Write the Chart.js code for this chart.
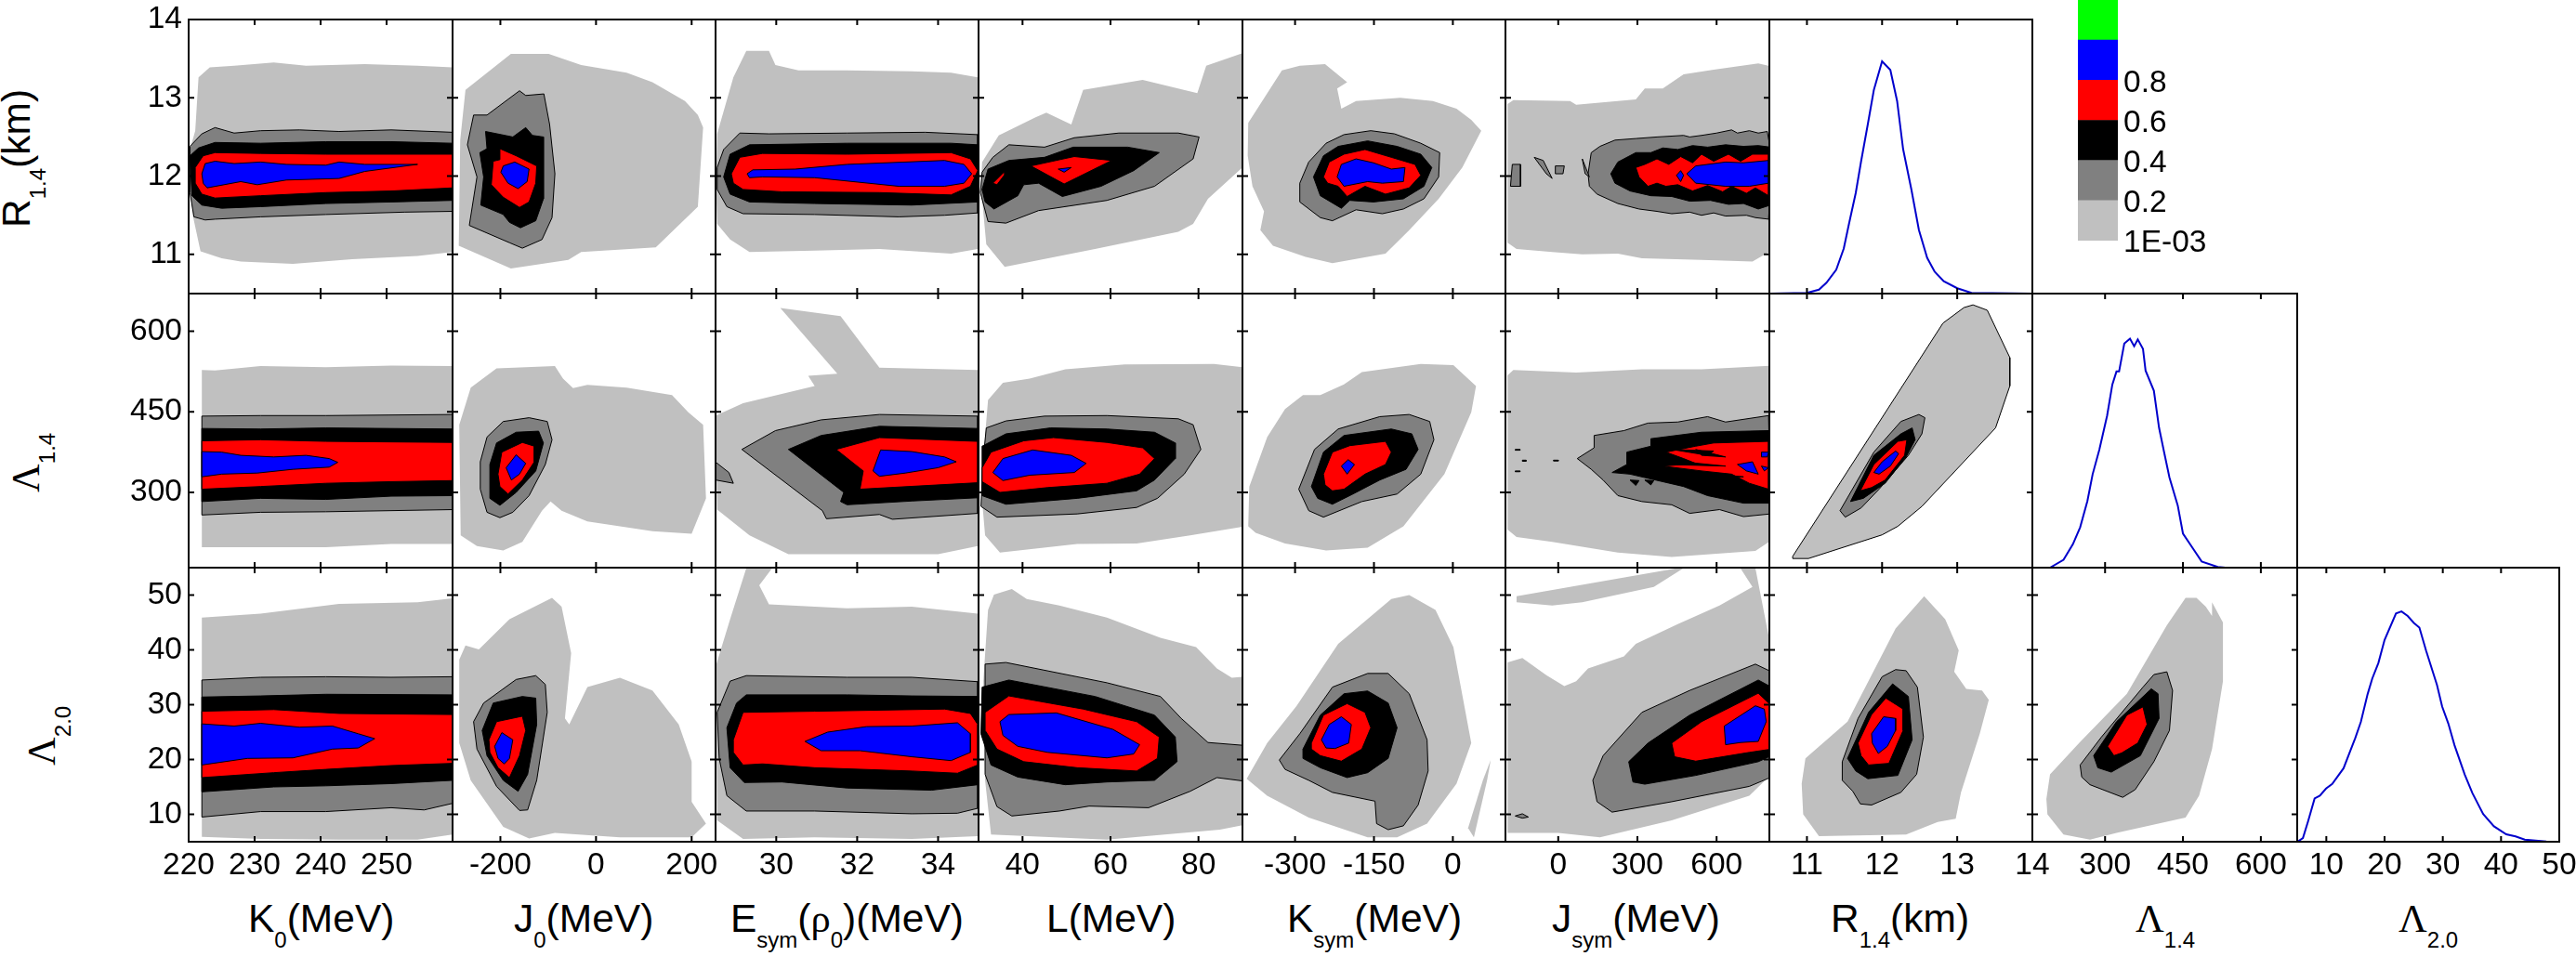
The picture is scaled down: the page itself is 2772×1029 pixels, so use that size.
<!DOCTYPE html>
<html>
<head>
<meta charset="utf-8">
<title>Corner plot</title>
<script src="https://cdn.jsdelivr.net/npm/chart.js@4/dist/chart.umd.js"></script>
<style>
  html, body { margin: 0; padding: 0; background: #fff; }
  #page { position: relative; width: 2772px; height: 1029px; overflow: hidden; }
  canvas { position: absolute; }
  .label { position: absolute; white-space: nowrap; font: 42.5px/42px "Liberation Sans", Arial, sans-serif; color: #000; }
  .label i { font-family: "Liberation Serif", serif; font-style: normal; }
  .label sub { font-size: 24px; line-height: 0; vertical-align: -17px; }
  .rot { transform-origin: 0 0; transform: rotate(-90deg); }
</style>
</head>
<body>
<div id="page"></div>
<script>
// Axis ranges and tick values
var k0Range = [220, 260], k0Ticks = [220, 230, 240, 250];
var j0Range = [-300, 250], j0Ticks = [-200, 0, 200];
var esymRange = [28.5, 35], esymTicks = [30, 32, 34];
var lRange = [30, 90], lTicks = [40, 60, 80];
var ksymRange = [-400, 100], ksymTicks = [-300, -150, 0];
var jsymRange = [-200, 800], jsymTicks = [0, 300, 600];
var r14Range = [10.5, 14], r14Ticks = [11, 12, 13, 14];
var lam14Range = [160, 670], lam14Ticks = [300, 450, 600];
var lam20Range = [5, 55], lam20XRange = [5, 50], lam20Ticks = [10, 20, 30, 40, 50];

// Colour bar
var barLevels = [0.2, 0.2, 0.2, 0.2, 0.2, 0.2];
var barTickValues = [0, 0.2, 0.4, 0.6, 0.8];
var barTickLabels = ["1E-03", "0.2", "0.4", "0.6", "0.8"];

// Contours: [level, [x,y, x,y, ...]]
var rK0 = [
  [0.001, [220.2,12.34, 221,12.58, 221.5,13.26, 223.2,13.39, 226.9,13.41, 232.9,13.45, 237.8,13.41, 246.7,13.43, 254.7,13.41, 260,13.39, 260,11.03, 254.7,10.98, 244.8,10.94, 235.8,10.88, 227.9,10.91, 225,10.95, 221.8,11.04, 220.7,11.47, 220.2,11.87]],
  [0.2, [220.2,12.38, 222,12.54, 224,12.62, 226.9,12.55, 230.9,12.58, 236.8,12.59, 242.8,12.57, 250.7,12.59, 260,12.56, 260,11.55, 252.7,11.54, 240.8,11.51, 230.9,11.48, 224,11.45, 222.5,11.44, 220.8,11.48, 220.2,11.79]],
  [0.4, [220.2,12.26, 221.5,12.36, 224,12.43, 230.9,12.42, 240.8,12.44, 250.7,12.44, 260,12.42, 260,11.69, 250.7,11.67, 240.8,11.65, 230.9,11.61, 225,11.59, 222,11.63, 220.5,11.75]],
  [0.6, [221,12.11, 222.2,12.26, 224,12.3, 230.9,12.29, 240.8,12.28, 250.7,12.28, 260,12.28, 260,11.85, 250.7,11.81, 240.8,11.79, 230.9,11.75, 224,11.72, 222,11.77, 221,11.91]],
  [0.8, [222,12.03, 222.5,12.16, 224,12.19, 226.9,12.16, 230.9,12.18, 234.8,12.15, 240.8,12.14, 242.8,12.18, 246.7,12.15, 254.7,12.15, 246.7,12.06, 242.8,11.97, 234.8,11.95, 230.4,11.89, 227.9,11.93, 222.8,11.85, 222.2,11.91]]
];
var rJ0 = [
  [0.001, [-287,11.11, -284,12.46, -273,13.1, -178,13.56, -99,13.56, -31,13.42, 64,13.32, 118,13.2, 186,12.96, 213,12.78, 224,12.62, 213,11.61, 125,11.09, -31,11.03, -58,10.93, -178,10.82]],
  [0.2, [-160,13.09, -147,13.03, -109,13.05, -97,12.66, -86,12.03, -92,11.47, -113,11.19, -154,11.08, -181,11.15, -265,11.37, -249,11.99, -269,12.4, -256,12.78, -228,12.78]],
  [0.4, [-231,12.57, -174,12.5, -147,12.62, -133,12.52, -110,12.5, -110,11.71, -126,11.43, -158,11.34, -181,11.41, -194,11.51, -241,11.63, -235,11.99, -243,12.3, -228,12.35]],
  [0.6, [-201,12.35, -167,12.26, -124,12.13, -126,11.91, -140,11.67, -160,11.6, -194,11.73, -219,11.89, -215,12.19, -201,12.21]],
  [0.8, [-170,12.18, -140,12.09, -144,11.93, -163,11.84, -184,11.91, -199,12.05, -194,12.13]]
];
var rEsym = [
  [0.001, [28.51,11.87, 28.54,12.54, 28.94,13.26, 29.26,13.6, 29.82,13.6, 29.98,13.42, 30.55,13.35, 31.75,13.35, 33.35,13.34, 34.32,13.32, 34.98,13.26, 34.98,11.07, 34.32,11.01, 32.55,11.07, 30.95,11.05, 29.34,11.03, 28.86,11.19, 28.54,11.39]],
  [0.2, [28.54,12.11, 28.7,12.34, 29.1,12.55, 29.82,12.54, 31.75,12.55, 33.68,12.56, 34.98,12.53, 34.98,11.53, 34.16,11.5, 33.03,11.48, 30.95,11.51, 29.18,11.52, 28.78,11.61, 28.54,11.83]],
  [0.4, [28.7,11.99, 28.86,12.28, 29.34,12.4, 31.75,12.42, 34.32,12.42, 34.98,12.4, 34.98,11.67, 33.35,11.63, 30.95,11.65, 29.34,11.67, 28.86,11.77]],
  [0.6, [28.89,12.03, 29.1,12.24, 29.66,12.29, 31.75,12.28, 34.32,12.3, 34.8,12.22, 34.98,12.07, 34.8,11.87, 34.32,11.76, 32.55,11.79, 30.14,11.8, 29.18,11.83, 28.94,11.91]],
  [0.8, [29.28,12.03, 29.42,12.08, 30.47,12.09, 31.75,12.15, 34.16,12.2, 34.64,12.15, 34.83,12.03, 34.64,11.91, 34.16,11.87, 33.03,11.87, 30.95,11.98, 29.66,11.99, 29.34,11.98]]
];
var rL = [
  [0.001, [30.54,11.87, 30.81,12.18, 34.59,12.52, 42.97,12.75, 45.41,12.81, 51.08,12.66, 53.78,13.1, 67.3,13.23, 79.73,13.06, 81.76,13.41, 90,13.57, 90,12.11, 82.16,11.71, 78.78,11.39, 75.41,11.29, 56.49,11.07, 35.95,10.84, 31.76,11.13]],
  [0.2, [30.41,11.79, 30.81,12.05, 33.24,12.24, 36.89,12.4, 45,12.37, 51.76,12.49, 61.89,12.55, 75.41,12.55, 80.14,12.5, 78.78,12.22, 70,11.87, 59.19,11.69, 43.65,11.56, 36.22,11.4, 32.16,11.42]],
  [0.4, [30.81,11.83, 32.16,12.09, 36.89,12.2, 45,12.24, 51.49,12.37, 63.92,12.37, 71.08,12.3, 65.27,12.07, 57.84,11.87, 49.05,11.74, 43.65,11.91, 40.27,11.89, 38.92,11.75, 33.51,11.58, 31.49,11.67]],
  [0.6, [33.24,11.91, 35.95,12.06, 35.95,12.02, 34.19,11.89]],
  [0.6, [41.89,12.13, 51.76,12.25, 60.27,12.2, 49.46,11.9]],
  [0.8, [48.11,12.09, 51.08,12.11, 49.46,12.05]]
];
var rKsym = [
  [0.001, [-389,12.68, -325,13.35, -291,13.41, -243,13.43, -201,13.2, -220,13.12, -212,12.86, -184,12.96, -100,13, -38,12.96, 7,12.86, 35,12.72, 54,12.58, 18,12.11, -27,11.71, -83,11.31, -128,11.01, -229,10.89, -280,10.97, -342,11.11, -366,11.31, -359,11.55, -381,11.87, -390,12.26]],
  [0.2, [-291,11.91, -274,12.18, -241,12.42, -207,12.53, -156,12.58, -111,12.54, -61,12.42, -25,12.3, -27,11.99, -55,11.71, -94,11.58, -134,11.52, -184,11.57, -229,11.43, -252,11.47, -291,11.67]],
  [0.4, [-265,11.99, -246,12.26, -218,12.38, -162,12.45, -106,12.38, -61,12.28, -40,12.11, -55,11.87, -94,11.71, -151,11.67, -196,11.69, -212,11.59, -252,11.75]],
  [0.6, [-246,11.99, -235,12.18, -207,12.28, -167,12.34, -117,12.24, -72,12.15, -61,12.01, -83,11.85, -128,11.77, -167,11.87, -201,11.74, -218,11.87, -238,11.91]],
  [0.8, [-220,11.99, -212,12.15, -184,12.22, -151,12.17, -117,12.09, -91,12.11, -94,11.93, -134,11.91, -162,11.93, -207,11.87]]
];
var rJsym = [
  [0.001, [-192,12.92, -170,12.97, 45,12.96, 68,12.91, 294,12.98, 328,13.12, 396,13.12, 475,13.3, 589,13.36, 758,13.44, 808,13.4, 808,11.05, 736,10.91, 543,10.93, 317,10.95, 226,11.01, 91,11, -23,11.03, -158,11.07, -192,11.15]],
  [0.2, [125,12.3, 158,12.38, 215,12.46, 294,12.48, 374,12.5, 475,12.52, 498,12.5, 543,12.52, 600,12.55, 657,12.59, 679,12.55, 724,12.58, 758,12.55, 792,12.57, 804,12.34, 804,11.87, 797,11.45, 747,11.47, 713,11.5, 634,11.49, 589,11.53, 543,11.5, 498,11.54, 430,11.52, 374,11.55, 306,11.58, 226,11.65, 147,11.77, 118,11.87, 113,12.03]],
  [0.2, [-174,12.15, -143,12.15, -143,11.87, -181,11.87]],
  [0.2, [-91,12.24, -57,12.2, -23,11.97, -45,12.03]],
  [0.2, [-11,12.13, 23,12.13, 18,12.03, -11,12.03]],
  [0.2, [91,12.22, 118,11.99, 102,12.03]],
  [0.4, [199,12.03, 226,12.18, 294,12.3, 351,12.3, 396,12.36, 453,12.34, 509,12.39, 566,12.37, 634,12.4, 702,12.38, 758,12.39, 804,12.37, 804,11.63, 758,11.58, 702,11.65, 645,11.64, 577,11.69, 498,11.68, 430,11.74, 351,11.75, 272,11.81, 215,11.91]],
  [0.6, [294,12.11, 328,12.15, 374,12.22, 419,12.15, 464,12.25, 509,12.17, 543,12.28, 589,12.19, 645,12.28, 691,12.19, 736,12.28, 797,12.28, 797,11.75, 747,11.85, 713,11.78, 657,11.87, 623,11.8, 566,11.88, 509,11.81, 453,11.89, 408,11.87, 374,11.91, 340,11.87, 306,11.99]],
  [0.8, [487,12.03, 521,12.13, 634,12.18, 702,12.17, 797,12.2, 797,11.91, 724,11.87, 634,11.87, 521,11.91]],
  [0.8, [464,12.07, 475,12.01, 464,11.93, 448,12.01]]
];

var lamK0 = [
  [0.001, [222,528, 224,527, 230.9,535, 240.8,533, 250.7,536, 260,535, 260,204, 250.7,204, 240.8,198, 230.9,198, 222,198]],
  [0.2, [222,442, 230.9,443, 240.8,443, 260,445, 260,268, 240.8,264, 230.9,263, 222,258]],
  [0.4, [222,419, 230.9,418, 240.8,420, 260,418, 260,294, 250.7,293, 240.8,287, 230.9,289, 222,283]],
  [0.6, [222,396, 230.9,398, 240.8,395, 260,393, 260,322, 250.7,320, 240.8,317, 230.9,311, 222,306]],
  [0.8, [222,376, 225,375, 227.9,369, 232.9,366, 237.8,369, 241.3,363, 242.6,356, 241.3,347, 235.8,343, 230.4,336, 225,334, 222,329]]
];
var lamJ0 = [
  [0.001, [-286,426, -262,495, -208,531, -86,535, -69,512, -48,494, -18,500, 64,495, 159,481, 193,449, 224,426, 230,289, 200,223, 118,228, 50,237, -18,246, -72,266, -95,283, -113,266, -154,208, -194,192, -249,200, -283,220]],
  [0.2, [-242,357, -228,403, -194,432, -140,439, -102,432, -92,398, -106,352, -140,294, -174,263, -201,253, -228,263, -242,306]],
  [0.4, [-222,352, -208,392, -167,412, -120,414, -110,392, -126,340, -167,300, -201,276, -222,289]],
  [0.6, [-205,334, -197,375, -154,393, -129,386, -129,357, -154,323, -184,297, -201,311]],
  [0.8, [-188,346, -167,370, -147,354, -160,334, -177,323]]
];
var lamEsym = [
  [0.001, [28.51,443, 29.18,466, 30.95,498, 30.79,517, 31.51,521, 30.1,643, 31.59,628, 32.55,532, 34.98,528, 34.98,200, 34,185, 31.75,185, 30.3,185, 29.34,220, 28.54,268]],
  [0.2, [29.15,380, 29.98,415, 31.11,435, 32.55,445, 34.98,442, 34.98,261, 32.87,250, 32.55,259, 31.24,251, 31.14,266]],
  [0.2, [28.51,356, 28.83,337, 28.94,317, 28.51,323]],
  [0.4, [30.3,380, 31.11,406, 32.55,423, 34.98,419, 34.98,290, 33.35,284, 31.75,277, 31.59,283, 31.67,300]],
  [0.6, [31.48,380, 32.55,402, 34.98,395, 34.98,318, 32.07,306, 32.15,340]],
  [0.8, [32.58,379, 33.35,376, 34.16,366, 34.45,357, 34,346, 33.19,336, 32.55,330, 32.39,340]]
];
var lamL = [
  [0.001, [32.16,472, 35.54,504, 41.62,512, 49.73,529, 63.24,538, 83.51,539, 90,533, 90,236, 78.11,220, 65.95,205, 52.43,204, 34.86,188, 31.49,220, 30.54,311]],
  [0.2, [31.76,420, 36.22,433, 45,442, 59.19,443, 75.41,437, 78.78,426, 80.54,380, 76.76,334, 70.68,289, 65.95,272, 52.43,260, 34.19,254, 30.54,274, 31.08,363]],
  [0.4, [30.81,386, 36.22,409, 46.35,420, 59.19,418, 70,412, 74.73,392, 74.73,363, 70,323, 65.95,303, 52.43,289, 36.22,278, 30.81,294]],
  [0.6, [30.81,346, 32.84,375, 40.27,396, 47.03,402, 59.19,393, 67.3,383, 70,363, 66.62,334, 59.19,317, 45.68,309, 34.86,300, 30.81,320]],
  [0.8, [33.24,337, 35.54,363, 42.3,379, 51.08,369, 54.46,354, 51.76,337, 41.62,332, 35.54,322]]
];
var lamKsym = [
  [0.001, [-389,237, -387,311, -353,403, -319,455, -285,481, -252,481, -207,501, -173,524, -61,539, 1,537, 44,498, 35,449, -16,334, -94,237, -162,197, -241,192, -319,205, -375,225]],
  [0.2, [-293,306, -263,380, -218,418, -139,441, -83,445, -44,432, -36,398, -61,334, -106,297, -173,283, -246,254, -274,266]],
  [0.4, [-269,311, -246,375, -207,406, -117,418, -78,409, -66,380, -89,343, -139,323, -190,297, -229,278, -257,289]],
  [0.6, [-246,334, -229,375, -196,387, -128,395, -117,375, -128,352, -167,334, -207,306, -229,303, -243,314]],
  [0.8, [-212,349, -199,361, -187,352, -201,334]]
];
var lamJsym = [
  [0.001, [-192,518, -170,528, 68,523, 317,529, 543,529, 808,536, 808,211, 747,191, 430,180, 226,188, -23,208, -158,217, -192,231]],
  [0.2, [136,406, 249,415, 340,429, 453,431, 566,441, 634,431, 797,443, 804,260, 702,255, 611,268, 498,261, 430,277, 317,283, 226,294, 170,323, 125,343, 72,363, 136,383]],
  [0.4, [351,400, 543,412, 797,415, 797,280, 702,280, 566,294, 475,311, 272,334, 204,337, 260,352, 260,375, 351,386]],
  [0.6, [408,375, 521,386, 589,392, 797,395, 797,306, 724,317, 657,334, 543,340, 396,349, 521,354, 475,363]],
  [0.4, [408,360, 634,349, 408,352]],
  [0.4, [475,340, 702,329, 498,329]],
  [0.4, [430,380, 589,377, 566,369]],
  [0.4, [521,380, 634,366, 543,369]],
  [0.4, [272,323, 306,322, 294,313]],
  [0.4, [328,323, 362,322, 351,314]],
  [0.4, [-163,380, -145,380, -145,378.5, -163,378.5]],
  [0.4, [-163,340, -145,340, -145,338.5, -163,338.5]],
  [0.4, [-136,360, -122,360, -122,358, -136,358]],
  [0.4, [-18,360, 0,360, 0,358.5, -18,358.5]],
  [0.8, [679,352, 736,357, 758,334, 713,340]],
  [0.8, [770,349, 797,346, 781,340]],
  [0.8, [770,375, 797,375, 792,366, 770,366]]
];
var lamR = [
  [0.001, [10.81,181, 12.81,615, 13.09,644, 13.21,649, 13.4,639, 13.7,551, 13.7,498, 13.51,420, 12.53,274, 12.21,237, 12,221, 11.02,177, 10.81,177]],
  [0.2, [11.44,266, 11.89,375, 12.25,432, 12.49,445, 12.57,439, 12.53,409, 12.35,369, 11.96,306, 11.72,271, 11.51,254]],
  [0.4, [11.58,283, 11.89,369, 12.25,409, 12.4,420, 12.44,398, 12.32,366, 12.04,317, 11.75,289]],
  [0.6, [11.71,303, 11.89,352, 12.21,395, 12.33,398, 12.3,369, 12.04,323, 11.86,309]],
  [0.8, [11.89,337, 12,357, 12.18,377, 12.22,372, 12.11,349, 11.96,334]]
];

var lam2K0 = [
  [0.001, [222,45.9, 230.9,46.6, 242.8,48.4, 254.7,48.7, 260,49.4, 260,6.3, 254.7,5.4, 242.8,5.4, 230.9,5.5, 222,5.9]],
  [0.2, [222,34.5, 230.9,35, 240.8,35.1, 250.7,35, 260,35.1, 260,12, 255.7,10.8, 250.7,11.2, 240.8,10.5, 230.9,10.5, 222,9.5]],
  [0.4, [222,31.4, 230.9,31.6, 240.8,31.9, 260,31.8, 260,16.2, 250.7,15.6, 240.8,15.2, 232.9,15, 222,14.1]],
  [0.6, [222,28.8, 232.9,29.1, 242.8,28.4, 260,28.2, 260,19.3, 250.7,18.9, 240.8,18.2, 232.9,17.6, 222,16.7]],
  [0.8, [222,26.5, 226.9,26.1, 230.9,26.6, 236.8,25.9, 241.8,26.1, 245.7,24.7, 248.2,23.8, 245.7,22.1, 241.8,21.9, 235.8,20.3, 228.9,20.2, 222,19]]
];
var lam2J0 = [
  [0.001, [-286,38.2, -273,40.8, -245,40.1, -181,45.6, -92,49.5, -72,47.9, -52,39.4, -65,27.5, -56,26.4, -18,33.2, 50,34.9, 118,32.6, 173,26.4, 200,19.6, 200,12.3, 230,8.3, 200,5.8, 50,5.8, -86,6.6, -140,5.6, -194,7.7, -262,16.2, -286,23]],
  [0.2, [-256,26.9, -235,30.3, -167,34.6, -126,35.3, -106,33.7, -102,28.6, -124,16.2, -143,10.8, -160,10.7, -208,15.1, -249,21.9]],
  [0.4, [-238,25.3, -215,30.3, -154,31.5, -126,31.2, -124,26.4, -143,17.3, -163,14.2, -194,16.2, -228,20.7]],
  [0.6, [-224,23.6, -208,26.9, -154,27.9, -147,25.3, -160,20.7, -181,16.7, -205,18.5, -222,21.3]],
  [0.8, [-212,22.4, -197,24.9, -174,23.6, -181,20.2, -192,19.2, -205,20.2]]
];
var lam2Esym = [
  [0.001, [28.51,37.1, 28.86,45.6, 29.26,54.9, 29.9,54.9, 29.58,51.8, 29.82,48.3, 31.75,47.6, 33.35,47.9, 34.98,46.6, 34.98,6, 33.35,5.5, 30.95,5.8, 29.18,5.5, 28.54,8.9]],
  [0.2, [28.54,28.6, 28.86,34.3, 29.26,35.3, 31.75,35, 33.35,35, 34.98,34.2, 34.98,11.1, 34.48,10.2, 33.35,10.1, 30.95,10.6, 29.26,10.6, 28.78,13.4, 28.59,20.2]],
  [0.4, [28.78,25.8, 29.02,30.3, 29.26,31.8, 31.75,31.8, 33.35,31.6, 34.98,31.5, 34.98,15.4, 33.84,14.4, 31.75,14.8, 30.14,15.9, 29.21,15.8, 28.86,18.5]],
  [0.6, [28.94,23.6, 29.18,28.6, 30.95,28.8, 34.16,29.2, 34.8,28.4, 34.98,26.4, 34.98,19, 34.48,17.5, 33.35,17.9, 30.95,18.5, 29.66,19.2, 29.18,19, 28.94,21.3]],
  [0.8, [30.71,23.3, 31.27,25, 32.23,26, 33.35,26.1, 34.48,26.7, 34.8,24.7, 34.8,21.3, 34.32,19.8, 33.35,20.5, 32.07,21.6, 31.11,21.6]]
];
var lam2L = [
  [0.001, [32.16,47.3, 33.51,50.1, 37.57,51.1, 40.95,49.3, 48.38,48.1, 59.19,45.9, 71.35,42.2, 79.46,40.5, 84.19,36.6, 87.57,34.9, 90,35.1, 90,8, 84.86,7.2, 59.19,5.4, 32.84,6.3, 31.49,16.2, 31.08,34.3]],
  [0.2, [31.49,37.4, 36.22,37.7, 59.19,34, 71.35,31.5, 76.08,27.5, 82.16,23.1, 90,22.6, 90,16.1, 84.19,16.7, 78.11,14.2, 68.65,11.2, 55.14,11.5, 48.38,10.6, 37.57,9.7, 34.19,11.4, 31.49,17.3]],
  [0.4, [30.81,33.2, 36.89,34.5, 56.49,31.5, 70,28.1, 74.73,24.1, 75.14,19.6, 70,16.2, 59.19,15.9, 49.73,15.4, 38.92,16.8, 32.84,19, 30.54,24.7]],
  [0.6, [31.49,28.6, 36.89,31.6, 53.78,29.2, 65.95,26.9, 71.08,24.1, 70.68,20.2, 65.95,17.9, 52.43,18.5, 40.27,19.6, 34.19,21.9, 31.49,25.3]],
  [0.8, [34.86,26.9, 36.89,28.2, 47.7,28.5, 60.54,25.5, 66.62,22.7, 65.27,21, 59.19,20.3, 45.68,21.3, 38.92,22.4, 35.54,24.4]]
];
var lam2Ksym = [
  [0.001, [-392,16.5, -353,23, -297,29.8, -218,41.1, -117,49.3, -83,50, -33,47.3, 1,40.5, 35,23, 7,15.6, -49,8.3, -106,5.8, -162,5.8, -274,9.4, -353,13.4]],
  [0.001, [72,19.9, 65,16.2, 40,5.8, 29,7.5, 57,16.2]],
  [0.2, [-330,19.9, -291,24.7, -229,33.2, -162,35.7, -123,35.7, -83,32, -49,23.6, -47,17.9, -66,11.7, -94,7.9, -123,7.2, -145,8.3, -148,12.4, -229,14, -274,16.2, -319,18.2]],
  [0.4, [-285,21.9, -252,28.1, -207,32, -162,32.5, -123,30.3, -106,25.8, -123,20.2, -162,17.6, -201,16.7, -252,18.5, -285,20.2]],
  [0.6, [-269,23, -246,28.1, -201,30.2, -167,28.6, -156,25.8, -173,21.9, -212,19.7, -252,20.7, -269,21.9]],
  [0.8, [-250,23.6, -235,26.4, -212,27.8, -193,26.4, -198,23, -224,22, -241,22.1]]
];
var lam2Jsym = [
  [0.001, [-192,37.7, -136,38.5, -45,35.4, 23,33.4, 68,34.3, 113,36.6, 249,38.8, 294,41.1, 453,44.7, 611,48.1, 736,51.5, 690,54.9, 747,54.9, 808,39.9, 808,17.3, 724,13.4, 430,8.9, 158,5.8, 0,6.6, -192,6.6]],
  [0.001, [-158,49.8, 453,54.9, 475,54.9, 362,51.5, 91,48.7, -23,48.1, -158,48.7]],
  [0.2, [131,16.2, 170,20.7, 317,28.6, 498,32.6, 747,37.4, 808,36, 808,16.8, 724,15.1, 430,12.3, 204,10.4, 147,12.3]],
  [0.2, [-163,9.7, -136,10.1, -113,9.5, -136,9.3]],
  [0.4, [267,19.6, 340,23, 498,28.1, 758,34.5, 808,33.2, 808,20.7, 758,19.6, 521,17.1, 328,15.5, 283,15.9]],
  [0.6, [430,23, 543,26.9, 758,32.1, 808,29.8, 808,21.9, 724,21.3, 521,19.7, 441,20.5]],
  [0.8, [629,26.1, 747,29.8, 781,29.2, 788,26.9, 758,23.3, 691,23.1, 634,22.7]]
];
var lam2R = [
  [0.001, [10.93,15.6, 10.98,20.2, 11.54,26.9, 12.18,43.9, 12.56,49.8, 12.84,45.6, 13.02,39.9, 12.96,36, 13.12,32.9, 13.33,32.6, 13.42,30.9, 13.3,24.7, 13.05,14, 12.98,9.2, 12.74,8.6, 12.32,6.3, 11.16,6, 10.95,10]],
  [0.2, [11.47,19.6, 11.68,27.5, 12,35.1, 12.18,36.4, 12.32,36.2, 12.47,33.2, 12.55,24.1, 12.46,17.3, 12.25,14, 11.86,11.7, 11.71,11.9, 11.61,14.2, 11.47,16.2]],
  [0.4, [11.54,20.2, 11.82,28.6, 12.14,33.8, 12.35,31.5, 12.4,23.6, 12.21,17.1, 11.81,16.5, 11.65,17.9]],
  [0.6, [11.68,23, 11.86,28.2, 12.05,31.2, 12.28,29.2, 12.28,25.3, 12.09,19.3, 11.82,19, 11.72,20.7]],
  [0.8, [11.86,24.7, 12.02,27.8, 12.18,27.5, 12.18,25.3, 12.07,22.4, 11.95,21.1, 11.87,23]]
];
var lam2Lam = [
  [0.001, [187,12.8, 194,17.3, 250,23, 342,32, 419,44.5, 455,49.5, 476,49.5, 494,47.9, 506,46.2, 506,48.7, 527,45, 527,34.3, 506,21.9, 481,13.4, 455,9.4, 322,6.6, 271,5.4, 220,6.3, 189,10]],
  [0.2, [252,19, 293,24.1, 373,33.2, 394,35.5, 419,36, 430,32.6, 424,25.3, 394,19.6, 358,14.5, 334,13.1, 271,15.4, 255,16.8]],
  [0.4, [278,20.7, 322,26.9, 389,32.9, 402,32, 404,27.5, 368,20.7, 312,17.7, 286,18.5]],
  [0.6, [305,22.4, 342,28.1, 373,29.6, 381,26.4, 363,23, 332,21.2, 317,20.7]]
];

// One-dimensional distributions on the diagonal
var diagRx = [10.5, 11, 11.16, 11.26, 11.39, 11.49, 11.56, 11.65, 11.72, 11.81, 11.89, 12, 12.11, 12.2, 12.28, 12.39, 12.49, 12.6, 12.7, 12.82, 13, 13.19, 14];
var diagRy = [0, .003, .017, .047, .103, .194, .301, .434, .568, .729, .876, 1, .963, .829, .622, .448, .274, .154, .094, .053, .023, .003, 0];
var diagLamx = [194, 220, 238, 252, 266, 276, 289, 304, 314, 322, 327, 337, 348, 356, 363, 373, 378, 394, 404, 414, 424, 440, 450, 470, 486, 517, 532, 660];
var diagLamy = [0, .034, .102, .176, .291, .407, .515, .664, .799, .856, .856, .978, .999, .966, .996, .955, .86, .772, .61, .501, .393, .271, .149, .081, .027, .003, 0, 0];
var diagLam2x = [5.03, 5.98, 6.88, 7.99, 8.89, 9.95, 11.01, 12.96, 14.18, 14.97, 15.93, 17.09, 17.88, 18.94, 20, 21.96, 22.91, 23.97, 25.03, 25.98, 27.14, 29, 29.89, 30.95, 32.01, 33.76, 35.08, 36.93, 38.78, 40.9, 42.49, 44.07, 47.78, 50];
var diagLam2y = [0, .016, .09, .188, .2, .231, .251, .319, .399, .45, .52, .641, .708, .776, .876, .991, 1, .98, .95, .93, .829, .681, .587, .513, .419, .292, .211, .12, .067, .032, .023, .009, .001, 0];

// Layout
var colEdges = [203, 487, 770, 1053, 1337, 1620, 1904, 2187, 2472, 2754];
var rowEdges = [21, 316, 611, 906];
var levels = [0.001, 0.2, 0.4, 0.6, 0.8];
var levelColors = ["#c0c0c0", "#808080", "#000000", "#ff0000", "#0000ff"];
var tickFont = { family: "'Liberation Sans', Arial, sans-serif", size: 33.5 };
var noGrid = { display: false, drawTicks: false };
var page = document.getElementById("page");

// Frame and inward tick marks, taken from the chart's own scales
var framePlugin = {
  id: "frame",
  afterDraw: function (chart, args, opts) {
    var ctx = chart.ctx, a = chart.chartArea;
    ctx.save();
    ctx.strokeStyle = "#000";
    ctx.lineWidth = 2;
    ctx.strokeRect(a.left, a.top, a.right - a.left, a.bottom - a.top);
    ctx.beginPath();
    chart.scales.x.ticks.forEach(function (t) {
      var px = chart.scales.x.getPixelForValue(t.value);
      ctx.moveTo(px, a.top); ctx.lineTo(px, a.top + 6);
      ctx.moveTo(px, a.bottom); ctx.lineTo(px, a.bottom - 6);
    });
    if (!opts.noYTicks) {
      chart.scales.y.ticks.forEach(function (t) {
        var py = chart.scales.y.getPixelForValue(t.value);
        ctx.moveTo(a.left, py); ctx.lineTo(a.left + 6, py);
        ctx.moveTo(a.right, py); ctx.lineTo(a.right - 6, py);
      });
    }
    ctx.stroke();
    ctx.restore();
  }
};

function toPoints(flat, close) {
  var pts = [];
  for (var i = 0; i < flat.length; i += 2) pts.push({ x: flat[i], y: flat[i + 1] });
  if (close) pts.push(pts[0]);
  return pts;
}

function makeCanvas(left, top, w, h) {
  var c = document.createElement("canvas");
  c.width = w; c.height = h;
  c.style.left = left + "px"; c.style.top = top + "px";
  page.appendChild(c);
  return c;
}

function fixedTicks(values) {
  return function (scale) { scale.ticks = values.map(function (v) { return { value: v }; }); };
}

// Scale padding is dropped so the tick labels can hang over the plot edges
function fixWidth(w) {
  return function (s) { s.width = w; s.paddingTop = 0; s.paddingBottom = 0; };
}
function fixHeight(h) {
  return function (s) { s.height = h; s.paddingLeft = 0; s.paddingRight = 0; };
}

function addPanel(row, col, xRange, xTicks, yRange, yTicks, datasets, diagonal) {
  var ml = col === 0 ? 110 : 14, mr = 34, mt = 18, mb = row === 2 ? 50 : 14;
  var left = colEdges[col], right = colEdges[col + 1], top = rowEdges[row], bottom = rowEdges[row + 1];
  var canvas = makeCanvas(left - ml, top - mt, right - left + ml + mr, bottom - top + mt + mb);
  new Chart(canvas, {
    type: "scatter",
    data: { datasets: datasets },
    plugins: [framePlugin],
    options: {
      responsive: false,
      animation: false,
      events: [],
      devicePixelRatio: 1,
      layout: { padding: { top: mt, right: mr } },
      plugins: { legend: { display: false }, tooltip: { enabled: false }, frame: { noYTicks: diagonal } },
      scales: {
        x: {
          type: "linear", min: xRange[0], max: xRange[1],
          afterBuildTicks: fixedTicks(xTicks),
          afterFit: fixHeight(mb),
          grid: noGrid, border: { display: false },
          ticks: { display: row === 2, autoSkip: false, maxRotation: 0, color: "#000", font: tickFont, padding: 6 }
        },
        y: {
          type: "linear", min: yRange[0], max: yRange[1],
          afterBuildTicks: fixedTicks(yTicks),
          afterFit: fixWidth(ml),
          grid: noGrid, border: { display: false },
          ticks: { display: col === 0, autoSkip: false, color: "#000", font: tickFont, padding: 7 }
        }
      }
    }
  });
}

function contourPanel(row, col, xRange, xTicks, yRange, yTicks, contours, outlineLowest) {
  var sets = contours.map(function (c, i) {
    var lev = levels.indexOf(c[0]);
    var outlined = lev > 0 || outlineLowest;
    return {
      data: toPoints(c[1], true),
      showLine: true, fill: "shape", tension: 0, pointRadius: 0,
      backgroundColor: levelColors[lev],
      borderColor: outlined ? "#000" : levelColors[lev],
      borderWidth: outlined ? 1 : 0,
      order: contours.length - i
    };
  });
  addPanel(row, col, xRange, xTicks, yRange, yTicks, sets, false);
}

function curvePanel(row, col, xRange, xTicks, yMax, xs, ys) {
  var pts = xs.map(function (x, i) { return { x: x, y: ys[i] }; });
  addPanel(row, col, xRange, xTicks, [0, yMax], [], [{
    data: pts, showLine: true, fill: false, tension: 0, pointRadius: 0,
    borderColor: "#0000cc", borderWidth: 2
  }], true);
}

// Row 1
contourPanel(0, 0, k0Range, k0Ticks, r14Range, r14Ticks, rK0);
contourPanel(0, 1, j0Range, j0Ticks, r14Range, r14Ticks, rJ0);
contourPanel(0, 2, esymRange, esymTicks, r14Range, r14Ticks, rEsym);
contourPanel(0, 3, lRange, lTicks, r14Range, r14Ticks, rL);
contourPanel(0, 4, ksymRange, ksymTicks, r14Range, r14Ticks, rKsym);
contourPanel(0, 5, jsymRange, jsymTicks, r14Range, r14Ticks, rJsym);
curvePanel(0, 6, r14Range, r14Ticks, 1.18, diagRx, diagRy);
// Row 2
contourPanel(1, 0, k0Range, k0Ticks, lam14Range, lam14Ticks, lamK0);
contourPanel(1, 1, j0Range, j0Ticks, lam14Range, lam14Ticks, lamJ0);
contourPanel(1, 2, esymRange, esymTicks, lam14Range, lam14Ticks, lamEsym);
contourPanel(1, 3, lRange, lTicks, lam14Range, lam14Ticks, lamL);
contourPanel(1, 4, ksymRange, ksymTicks, lam14Range, lam14Ticks, lamKsym);
contourPanel(1, 5, jsymRange, jsymTicks, lam14Range, lam14Ticks, lamJsym);
contourPanel(1, 6, r14Range, r14Ticks, lam14Range, lam14Ticks, lamR, true);
curvePanel(1, 7, lam14Range, lam14Ticks, 1.196, diagLamx, diagLamy);
// Row 3
contourPanel(2, 0, k0Range, k0Ticks, lam20Range, lam20Ticks, lam2K0);
contourPanel(2, 1, j0Range, j0Ticks, lam20Range, lam20Ticks, lam2J0);
contourPanel(2, 2, esymRange, esymTicks, lam20Range, lam20Ticks, lam2Esym);
contourPanel(2, 3, lRange, lTicks, lam20Range, lam20Ticks, lam2L);
contourPanel(2, 4, ksymRange, ksymTicks, lam20Range, lam20Ticks, lam2Ksym);
contourPanel(2, 5, jsymRange, jsymTicks, lam20Range, lam20Ticks, lam2Jsym);
contourPanel(2, 6, r14Range, r14Ticks, lam20Range, lam20Ticks, lam2R);
contourPanel(2, 7, lam14Range, lam14Ticks, lam20Range, lam20Ticks, lam2Lam);
curvePanel(2, 8, lam20XRange, lam20Ticks, 1.19, diagLam2x, diagLam2y);

// Colour bar, a single stacked bar; its labels sit on a second axis a little lower
var barCanvas = makeCanvas(2236, 0, 160, 285);
new Chart(barCanvas, {
  type: "bar",
  data: {
    labels: [""],
    datasets: barLevels.map(function (v, i) {
      return {
        data: [v], stack: "bar", barPercentage: 1, categoryPercentage: 1, borderWidth: 0,
        backgroundColor: levelColors.concat(["#00ff00"])[i]
      };
    })
  },
  options: {
    responsive: false,
    animation: false,
    events: [],
    devicePixelRatio: 1,
    layout: { padding: { bottom: 26 } },
    plugins: { legend: { display: false }, tooltip: { enabled: false } },
    scales: {
      x: { display: false, stacked: true },
      y: { display: false, stacked: true, min: 0, max: 1.2 },
      barLabels: {
        axis: "y", type: "linear", position: "right", min: 0.014, max: 1.214,
        afterBuildTicks: fixedTicks(barTickValues),
        afterFit: fixWidth(117),
        grid: noGrid, border: { display: false },
        ticks: {
          autoSkip: false, color: "#000", font: tickFont, padding: 6,
          callback: function (v) { return barTickLabels[barTickValues.indexOf(v)]; }
        }
      }
    }
  }
});

// Axis titles
var xTitles = [
  [267, "K<sub>0</sub>(MeV)"],
  [553, "J<sub>0</sub>(MeV)"],
  [786, "E<sub>sym</sub>(<i>&rho;</i><sub>0</sub>)(MeV)"],
  [1126, "L(MeV)"],
  [1385, "K<sub>sym</sub>(MeV)"],
  [1670, "J<sub>sym</sub>(MeV)"],
  [1970, "R<sub>1.4</sub>(km)"],
  [2298, "<i>&Lambda;</i><sub>1.4</sub>"],
  [2581, "<i>&Lambda;</i><sub>2.0</sub>"]
];
var yTitles = [
  [-3, 245, "R<sub>1.4</sub>(km)"],
  [7, 530, "<i>&Lambda;</i><sub>1.4</sub>"],
  [24, 824, "<i>&Lambda;</i><sub>2.0</sub>"]
];
xTitles.forEach(function (t) {
  var d = document.createElement("div");
  d.className = "label";
  d.style.left = t[0] + "px";
  d.style.top = "968px";
  d.innerHTML = t[1];
  page.appendChild(d);
});
yTitles.forEach(function (t) {
  var d = document.createElement("div");
  d.className = "label rot";
  d.style.left = t[0] + "px";
  d.style.top = t[1] + "px";
  d.innerHTML = t[2];
  page.appendChild(d);
});
</script>
</body>
</html>
